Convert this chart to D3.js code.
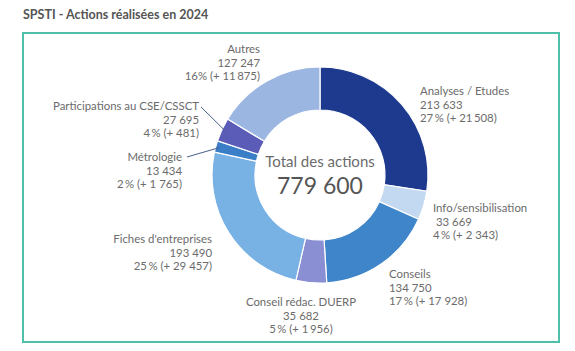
<!DOCTYPE html>
<html>
<head>
  <meta charset="utf-8">
  <title>SPSTI - Actions réalisées en 2024</title>
  <script src="https://d3js.org/d3.v7.min.js"></script>
  <style>
    body { margin: 0; background: #fff; font-family: Lato, "Noto Sans", sans-serif; }
    .title { font-size: 12.5px; font-weight: bold; fill: #555; }
    .lbl { font-size: 11.4px; fill: #6b6b6b; }
    .center-title { font-size: 15px; fill: #6b6b6b; text-anchor: middle; }
    .center-value { font-size: 23px; fill: #555; text-anchor: middle; }
  </style>
</head>
<body>
  <div id="chart"></div>
  <script>
    // data, clockwise from 12 o'clock
    const categories = ["Analyses / Etudes", "Info/sensibilisation", "Conseils", "Conseil rédac. DUERP",
      "Fiches d'entreprises", "Métrologie", "Participations au CSE/CSSCT", "Autres"];
    const values = [213633, 33669, 134750, 35682, 193490, 13434, 27695, 127247];
    const valueLabels = ["213 633", " 33 669", "134 750", "35 682", "193 490", "13 434", "27 695", "127 247"];
    const shareLabels = ["27\u2009% (+ 21\u2009508)", "4\u2009% (+ 2 343)", "17\u2009% (+ 17 928)", "5\u2009% (+ 1\u2009956)",
      "25\u2009% (+ 29 457)", "2\u2009% (+ 1 765)", "4\u2009% (+ 481)", "16% (+ 11\u2009875)"];
    const colors = ["#1e3a8e", "#c3d8f1", "#3f85c9", "#8a8fd3", "#78b1e3", "#3b7ec8", "#5a5cb8", "#9cb6e2"];
    const totalLabel = "779 600";

    const W = 575, H = 351;
    const cx = 320, cy = 175, rOut = 108, rIn = 65;

    const svg = d3.select("#chart").append("svg")
      .attr("width", W).attr("height", H);

    svg.append("text").attr("class", "title")
      .attr("x", 23).attr("y", 19)
      .text("SPSTI - Actions réalisées en 2024");

    svg.append("rect")
      .attr("x", 23).attr("y", 33).attr("width", 536).attr("height", 309)
      .attr("fill", "none").attr("stroke", "#4fbfaa").attr("stroke-width", 2);

    const pie = d3.pie().sort(null).value(d => d)(values);
    const arc = d3.arc().innerRadius(rIn).outerRadius(rOut);

    const g = svg.append("g").attr("transform", `translate(${cx},${cy})`);
    g.selectAll("path")
      .data(pie)
      .join("path")
        .attr("d", arc)
        .attr("fill", (d, i) => colors[i])
        .attr("stroke", "#fff")
        .attr("stroke-width", 1.2);

    g.append("text").attr("class", "center-title").attr("y", -8).text("Total des actions");
    g.append("text").attr("class", "center-value").attr("y", 19).text(totalLabel);

    // label placement (anchor point of first line, text anchor)
    const labelPos = [
      {x: 420, y: 95, a: "start"},
      {x: 433, y: 212, a: "start"},
      {x: 389, y: 278, a: "start"},
      {x: 301, y: 306, a: "middle"},
      {x: 212, y: 243, a: "end"},
      {x: 182, y: 161, a: "end"},
      {x: 199, y: 110, a: "end"},
      {x: 260, y: 53, a: "end"}
    ];

    const labels = svg.append("g");
    categories.forEach((c, i) => {
      const p = labelPos[i];
      const t = labels.append("text").attr("class", "lbl")
        .attr("x", p.x).attr("y", p.y).attr("text-anchor", p.a);
      [c, valueLabels[i], shareLabels[i]].forEach((s, k) => {
        t.append("tspan").attr("x", p.x).attr("dy", k === 0 ? 0 : 13.5)
          .style("white-space", "pre").text(s);
      });
    });

    // leader lines for the small slices
    const leaders = [
      {i: 6, from: [201, 107]},
      {i: 5, from: [187, 157]}
    ];
    leaders.forEach(l => {
      const d = pie[l.i];
      const mid = (d.startAngle + d.endAngle) / 2;
      const r = rOut - 4;
      const ex = cx + Math.sin(mid) * r, ey = cy - Math.cos(mid) * r;
      svg.append("line")
        .attr("x1", l.from[0]).attr("y1", l.from[1])
        .attr("x2", ex).attr("y2", ey)
        .attr("stroke", "#4a5f8a").attr("stroke-width", 1);
    });
  </script>
</body>
</html>
